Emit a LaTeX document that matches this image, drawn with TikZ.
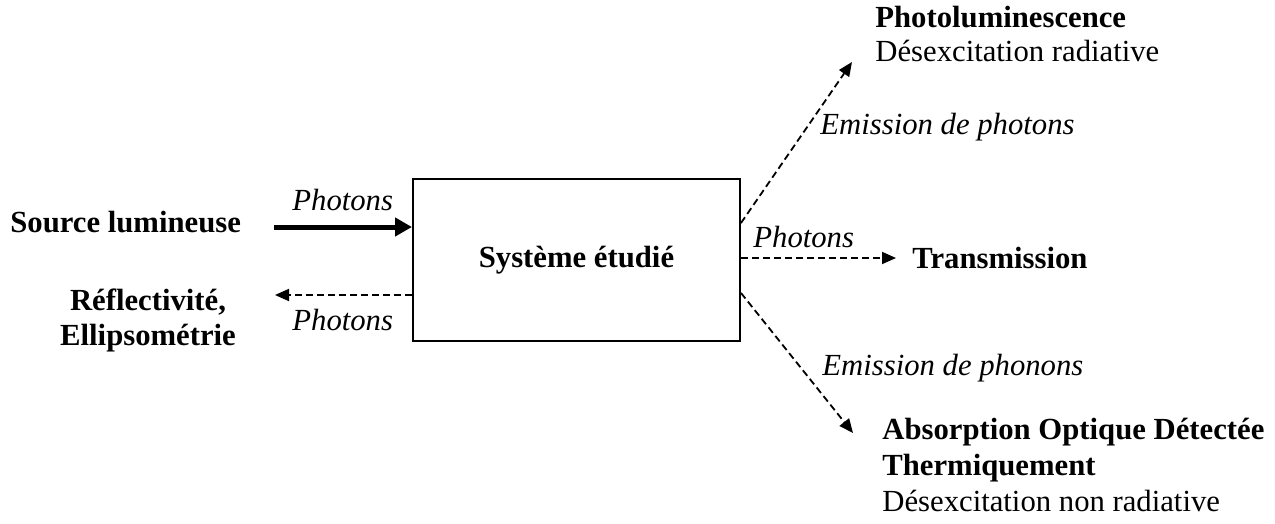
\documentclass[tikz,border=0pt]{standalone}
\usepackage{fontspec}
\setmainfont{Liberation Serif}
\usetikzlibrary{arrows.meta}
\begin{document}
\begin{tikzpicture}[x=0.5pt,y=-0.5pt,
  txt/.style={inner sep=0pt, font=\fontsize{15.35}{18}\selectfont},
  btxt/.style={inner sep=0pt, font=\fontsize{15.35}{18}\selectfont\bfseries},
  itxt/.style={inner sep=0pt, font=\fontsize{15.35}{18}\selectfont\itshape},
  dasharrow/.style={line width=0.9pt, dash pattern=on 3.5pt off 2pt, -{Triangle[length=7pt,width=6pt]}},
  thickarrow/.style={line width=2.5pt, -{Triangle[length=8.5pt,width=9pt]}},
  sysbox/.style={draw, line width=1pt, minimum width=163.5pt, minimum height=81pt, inner sep=0pt,
    font=\fontsize{15.35}{18}\selectfont\bfseries}
]
\useasboundingbox (0,0) rectangle (1275,524);
% central box
\node[sysbox] (sys) at (576.5,260) {Système étudié};
% left side
\node[btxt, anchor=base west] (src) at (10,233) {Source lumineuse};
\node[btxt, anchor=base] (refl1) at (148,310) {Réflectivité,};
\node[btxt, anchor=base] (refl2) at (148,345) {Ellipsométrie};
\node[itxt, anchor=base west] (ph1) at (292,211) {Photons};
\node[itxt, anchor=base west] (ph2) at (292,330) {Photons};
% right side
\node[btxt, anchor=base west] (pl1) at (875,28) {Photoluminescence};
\node[txt, anchor=base west] (pl2) at (875,62) {Désexcitation radiative};
\node[itxt, anchor=base west] (em1) at (820,135) {Emission de photons};
\node[itxt, anchor=base west] (ph3) at (753,247) {Photons};
\node[btxt, anchor=base west] (trans) at (912,268) {Transmission};
\node[itxt, anchor=base west] (em2) at (822,375) {Emission de phonons};
\node[btxt, anchor=base west] (ab1) at (882,439) {Absorption Optique Détectée};
\node[btxt, anchor=base west] (ab2) at (882,475) {Thermiquement};
\node[txt, anchor=base west] (ab3) at (882,511) {Désexcitation non radiative};
% free ends
\coordinate (srcS) at (274,227);
\coordinate (reflE) at (275,295);
\coordinate (plE) at (852,62);
\coordinate (trE) at (896,258);
\coordinate (abE) at (853,433);
% connectors
\draw[thickarrow] (srcS) -- (srcS -| sys.west);
\draw[dasharrow] (reflE -| sys.west) -- (reflE);
\draw[dasharrow] ([yshift=18.5pt]sys.east) -- (plE);
\draw[dasharrow] (trE -| sys.east) -- (trE);
\draw[dasharrow] ([yshift=-16.5pt]sys.east) -- (abE);
\end{tikzpicture}
\end{document}
